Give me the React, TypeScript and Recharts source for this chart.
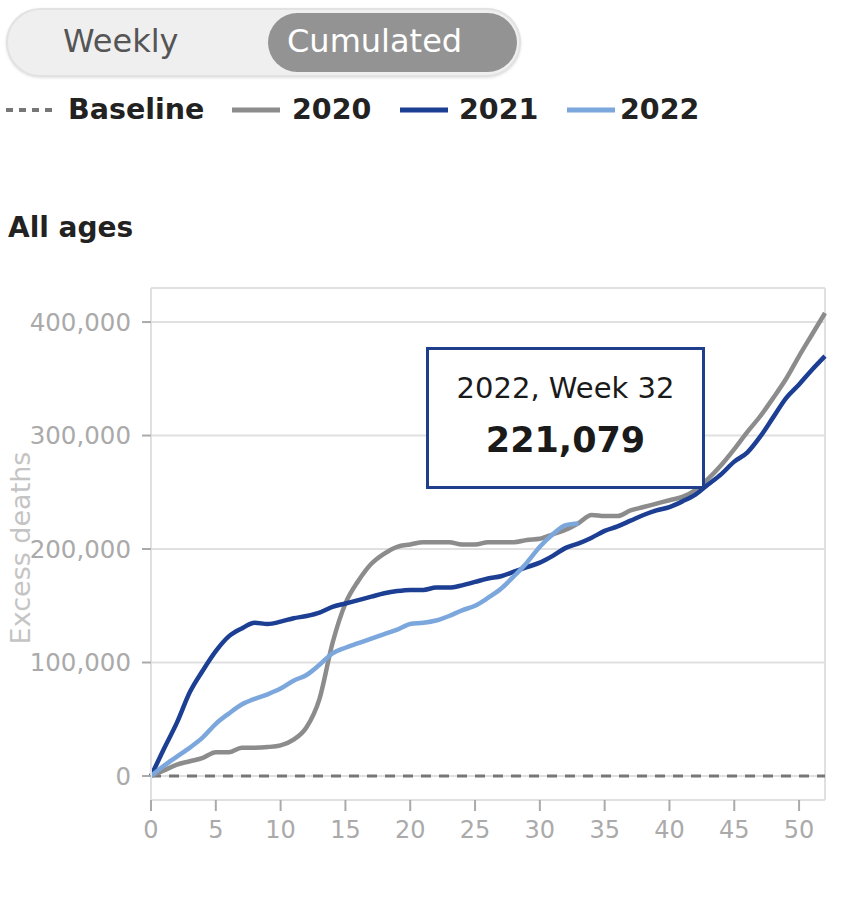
import React from 'react';
import { LineChart, Line, XAxis, YAxis, CartesianGrid, ReferenceLine } from 'recharts';

const weeks = Array.from({ length: 53 }, (_, i) => i);
const xTicks = [0, 5, 10, 15, 20, 25, 30, 35, 40, 45, 50];
const yTicks = [0, 100000, 200000, 300000, 400000];

const values2020 = [
  0, 5000, 10000, 13000, 16000, 21000, 21000, 25000, 25000, 25500,
  27000, 32000, 43000, 68000, 117000, 152000, 172000, 187000, 196000, 202000,
  204000, 206000, 206000, 206000, 204000, 204000, 206000, 206000, 206000, 208000,
  209000, 213000, 217000, 223000, 230000, 229000, 229000, 234000, 237000, 240000,
  243000, 246000, 252000, 262000, 274000, 288000, 303000, 317000, 333000, 350000,
  370000, 389000, 408000,
];
const values2021 = [
  0, 24000, 47000, 74000, 93000, 110000, 123000, 130000, 135000, 134000,
  136000, 139000, 141000, 144000, 149000, 152000, 155000, 158000, 161000, 163000,
  164000, 164000, 166000, 166000, 168000, 171000, 174000, 176000, 180000, 184000,
  188000, 194000, 201000, 205000, 210000, 216000, 220000, 225000, 230000, 234000,
  237000, 242000, 248000, 257000, 266000, 277000, 285000, 299000, 316000, 333000,
  345000, 358000, 370000,
];
const values2022 = [
  0, 9000, 17000, 25000, 34000, 46000, 55000, 63000, 68000, 72000,
  77000, 84000, 89000, 98000, 108000, 113000, 117000, 121000, 125000, 129000,
  134000, 135000, 137000, 141000, 146000, 150000, 157000, 165000, 176000, 188000,
  202000, 213000, 221079, 222500,
];

const highlightYear = '2022';
const highlightWeek = 32;

const data = weeks.map((w) => ({
  week: w,
  y2020: values2020[w],
  y2021: values2021[w],
  y2022: w < values2022.length ? values2022[w] : undefined,
}));

const FONT = '"DejaVu Sans", sans-serif';
const C2020 = '#8c8c8c';
const C2021 = '#1c3f94';
const C2022 = '#7ba7dc';
const fmt = (v: number) => v.toLocaleString('en-US');

const YLabel = (props: any) => {
  const vb = props.viewBox || { x: 0, y: 0, width: 0, height: 0 };
  const x = vb.x + 30;
  const y = vb.y + vb.height / 2 + 4;
  return (
    <text
      x={x}
      y={y}
      transform={`rotate(-90, ${x}, ${y})`}
      textAnchor="middle"
      fill="#c4c4c4"
      fontSize={27}
      fontFamily={FONT}
    >
      Excess deaths
    </text>
  );
};

const legendItems = [
  { label: 'Baseline', color: '#777', dashed: true, iconLeft: 6, textLeft: 68 },
  { label: '2020', color: C2020, dashed: false, iconLeft: 232, textLeft: 292 },
  { label: '2021', color: C2021, dashed: false, iconLeft: 400, textLeft: 459 },
  { label: '2022', color: C2022, dashed: false, iconLeft: 567, textLeft: 620 },
];

export default function App() {
  return (
    <div
      style={{
        position: 'absolute',
        left: 0,
        top: 0,
        width: 842,
        height: 904,
        background: '#fff',
        fontFamily: FONT,
        overflow: 'hidden',
      }}
    >
      {/* toggle */}
      <div
        style={{
          position: 'absolute',
          left: 6,
          top: 8,
          width: 515,
          height: 69,
          boxSizing: 'border-box',
          borderRadius: 35,
          background: '#efefef',
          border: '2px solid #e2e2e2',
          boxShadow: '0 1px 3px rgba(0,0,0,0.12)',
        }}
      />
      <div
        style={{
          position: 'absolute',
          left: 63,
          top: 12,
          height: 59,
          lineHeight: '59px',
          fontSize: 32,
          color: '#555',
        }}
      >
        Weekly
      </div>
      <div
        style={{
          position: 'absolute',
          left: 268,
          top: 13,
          width: 249,
          height: 59,
          borderRadius: 30,
          background: '#939393',
          color: '#fff',
          fontSize: 32,
          lineHeight: '57px',
          boxSizing: 'border-box',
          paddingLeft: 19,
        }}
      >
        Cumulated
      </div>

      {/* legend */}
      {legendItems.map((it) => (
        <React.Fragment key={it.label}>
          <svg
            style={{ position: 'absolute', left: it.iconLeft, top: 100 }}
            width={50}
            height={20}
          >
            <line
              x1={0}
              y1={10}
              x2={it.dashed ? 50 : 48}
              y2={10}
              stroke={it.color}
              strokeWidth={it.dashed ? 4 : 5}
              strokeDasharray={it.dashed ? '7 6' : undefined}
            />
          </svg>
          <div
            style={{
              position: 'absolute',
              left: it.textLeft,
              top: 90,
              height: 40,
              lineHeight: '40px',
              fontSize: 28.5,
              fontWeight: 'bold',
              color: '#222',
            }}
          >
            {it.label}
          </div>
        </React.Fragment>
      ))}

      {/* title */}
      <div
        style={{
          position: 'absolute',
          left: 8,
          top: 208,
          height: 40,
          lineHeight: '40px',
          fontSize: 28,
          fontWeight: 'bold',
          color: '#222',
        }}
      >
        All ages
      </div>

      {/* chart */}
      <div style={{ position: 'absolute', left: 0, top: 0 }}>
        <LineChart
          width={842}
          height={904}
          data={data}
          margin={{ top: 288, right: 17, bottom: 44, left: 0 }}
        >
          <CartesianGrid vertical={false} stroke="#e0e0e0" strokeWidth={2} />
          <XAxis
            dataKey="week"
            type="number"
            domain={[0, 52]}
            ticks={xTicks}
            height={60}
            tickSize={11}
            tickMargin={10}
            axisLine={{ stroke: '#e0e0e0', strokeWidth: 2 }}
            tickLine={{ stroke: '#aaa', strokeWidth: 2 }}
            tick={{ fill: '#aaa', fontSize: 24, fontFamily: FONT }}
            interval={0}
          />
          <YAxis
            type="number"
            domain={[-21150, 430000]}
            ticks={yTicks}
            width={151}
            tickSize={9}
            tickMargin={11}
            axisLine={{ stroke: '#e0e0e0', strokeWidth: 2 }}
            tickLine={{ stroke: '#aaa', strokeWidth: 2 }}
            tick={{ fill: '#aaa', fontSize: 24.5, fontFamily: FONT }}
            tickFormatter={fmt}
            allowDataOverflow
            interval={0}
            label={<YLabel />}
          />
          <ReferenceLine x={52} stroke="#e0e0e0" strokeWidth={2} />
          <ReferenceLine y={0} stroke="#777" strokeWidth={3} strokeDasharray="10 8" />
          <Line
            dataKey="y2020"
            stroke={C2020}
            strokeWidth={4.5}
            dot={false}
            type="monotone"
            isAnimationActive={false}
          />
          <Line
            dataKey="y2021"
            stroke={C2021}
            strokeWidth={4.5}
            dot={false}
            type="monotone"
            isAnimationActive={false}
          />
          <Line
            dataKey="y2022"
            stroke={C2022}
            strokeWidth={4.5}
            dot={false}
            type="monotone"
            isAnimationActive={false}
          />
        </LineChart>
      </div>

      {/* highlighted value box */}
      <div
        style={{
          position: 'absolute',
          left: 426,
          top: 347,
          width: 279,
          height: 142,
          boxSizing: 'border-box',
          border: '3px solid #1f3f8c',
          background: '#fff',
          textAlign: 'center',
          color: '#1a1a1a',
        }}
      >
        <div style={{ position: 'absolute', left: 0, right: 0, top: 20, fontSize: 29, lineHeight: '36px' }}>
          {`${highlightYear}, Week ${highlightWeek}`}
        </div>
        <div
          style={{
            position: 'absolute',
            left: 0,
            right: 0,
            top: 68,
            fontSize: 35,
            fontWeight: 'bold',
            lineHeight: '44px',
          }}
        >
          {fmt(values2022[highlightWeek])}
        </div>
      </div>
    </div>
  );
}
